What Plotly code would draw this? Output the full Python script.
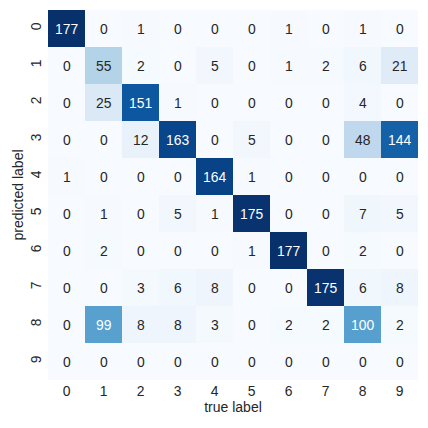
import plotly.graph_objects as go
import numpy as np

labels = ["0", "1", "2", "3", "4", "5", "6", "7", "8", "9"]
matrix = [
    [177, 0, 1, 0, 0, 0, 1, 0, 1, 0],
    [0, 55, 2, 0, 5, 0, 1, 2, 6, 21],
    [0, 25, 151, 1, 0, 0, 0, 0, 4, 0],
    [0, 0, 12, 163, 0, 5, 0, 0, 48, 144],
    [1, 0, 0, 0, 164, 1, 0, 0, 0, 0],
    [0, 1, 0, 5, 1, 175, 0, 0, 7, 5],
    [0, 2, 0, 0, 0, 1, 177, 0, 2, 0],
    [0, 0, 3, 6, 8, 0, 0, 175, 6, 8],
    [0, 99, 8, 8, 3, 0, 2, 2, 100, 2],
    [0, 0, 0, 0, 0, 0, 0, 0, 0, 0],
]

blues = ["#f7fbff", "#deebf7", "#c6dbef", "#9ecae1", "#6baed6",
         "#4292c6", "#2171b5", "#08519c", "#08306b"]
stops = np.linspace(0, 1, len(blues))
colorscale = [[float(s), c] for s, c in zip(stops, blues)]

def hex2rgb(h):
    return np.array([int(h[i:i + 2], 16) for i in (1, 3, 5)]) / 255.0

rgbs = np.array([hex2rgb(c) for c in blues])

def cell_color(v, vmax):
    t = v / vmax
    return np.array([np.interp(t, stops, rgbs[:, k]) for k in range(3)])

def luminance(rgb):
    c = np.where(rgb <= 0.03928, rgb / 12.92, ((rgb + 0.055) / 1.055) ** 2.4)
    return 0.2126 * c[0] + 0.7152 * c[1] + 0.0722 * c[2]

z = np.array(matrix)
vmax = z.max()
FS = 13.9
FONT = "Liberation Sans, Arial"
TITLE_FONT = dict(family=FONT, size=14, color="#262626")

fig = go.Figure(go.Heatmap(
    z=z, x=labels, y=labels, colorscale=colorscale, zmin=0, zmax=vmax,
    showscale=False, xgap=0, ygap=0, hoverinfo="skip",
))

for i, row in enumerate(matrix):
    for j, v in enumerate(row):
        col = "#ffffff" if luminance(cell_color(v, vmax)) < 0.408 else "#262626"
        fig.add_annotation(x=labels[j], y=labels[i], text=str(v), showarrow=False,
                           font=dict(family=FONT, size=FS, color=col))

fig.update_layout(
    width=428, height=428,
    margin=dict(l=48, r=10, t=10, b=48),
    plot_bgcolor="white", paper_bgcolor="white",
    font=dict(family=FONT, size=FS, color="#262626"),
    xaxis=dict(title=dict(text="true label", standoff=4, font=TITLE_FONT),
               showgrid=False, zeroline=False,
               ticks="", ticklabelstandoff=1, side="bottom"),
    yaxis=dict(title=dict(text="predicted label", standoff=1, font=TITLE_FONT),
               showgrid=False, zeroline=False,
               ticks="", autorange="reversed", tickangle=-90, ticklabelstandoff=3),
)

fig.write_html("out.html")
